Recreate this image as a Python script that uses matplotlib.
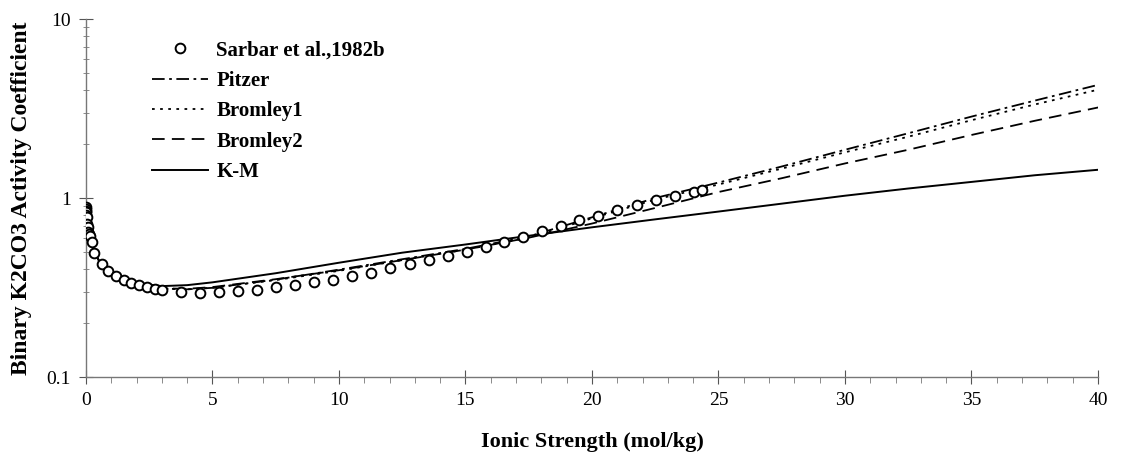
import matplotlib
matplotlib.use("Agg")
import matplotlib.pyplot as plt
from matplotlib.ticker import LogLocator, FixedLocator, NullFormatter

# ---- data ----
exp_x = [0.001, 0.003, 0.006, 0.01, 0.02, 0.03, 0.05, 0.07, 0.09, 0.12, 0.16, 0.22,
         0.32, 0.62, 0.88, 1.19, 1.50, 1.80, 2.11, 2.41, 2.71, 3.02, 3.75, 4.51,
         5.26, 6.00, 6.76, 7.51, 8.26, 9.01, 9.76, 10.52, 11.28, 12.03, 12.8, 13.56,
         14.31, 15.05, 15.8, 16.52, 17.26, 18.02, 18.77, 19.5, 20.25, 21.0, 21.77,
         22.53, 23.27, 24.03, 24.33]
exp_y = [0.89, 0.87, 0.85, 0.83, 0.80, 0.78, 0.72, 0.69, 0.65, 0.63, 0.61, 0.57,
         0.494, 0.426, 0.392, 0.367, 0.348, 0.334, 0.325, 0.317, 0.311, 0.306, 0.300, 0.296,
         0.297, 0.301, 0.307, 0.317, 0.328, 0.338, 0.348, 0.368, 0.383, 0.405, 0.430, 0.451,
         0.474, 0.501, 0.535, 0.570, 0.608, 0.656, 0.698, 0.750, 0.796, 0.853, 0.914,
         0.975, 1.03, 1.084, 1.109]

model_x = [0.001, 0.01, 0.05, 0.1, 0.2, 0.5, 1, 1.5, 2, 3, 4, 5, 7.5, 10, 12.5,
           15, 17.5, 20, 22.5, 25, 27.5, 30, 32.5, 35, 37.5, 40.3]
pitzer = [0.90, 0.82, 0.71, 0.64, 0.56, 0.45, 0.375, 0.345, 0.328, 0.312, 0.309, 0.315,
          0.350, 0.398, 0.455, 0.52, 0.61, 0.78, 1.0, 1.22, 1.5, 1.86, 2.3, 2.85, 3.5, 4.39]
bromley1 = [0.90, 0.82, 0.71, 0.64, 0.56, 0.45, 0.375, 0.345, 0.328, 0.312, 0.309, 0.315,
            0.348, 0.392, 0.45, 0.515, 0.60, 0.77, 0.98, 1.19, 1.46, 1.80, 2.2, 2.72, 3.33, 4.12]
bromley2 = [0.90, 0.82, 0.71, 0.64, 0.56, 0.45, 0.375, 0.345, 0.328, 0.313, 0.311, 0.318,
            0.352, 0.395, 0.45, 0.515, 0.60, 0.72, 0.88, 1.08, 1.29, 1.56, 1.86, 2.25, 2.7, 3.27]
km = [0.90, 0.82, 0.71, 0.64, 0.56, 0.45, 0.38, 0.35, 0.335, 0.322, 0.326, 0.338,
      0.38, 0.435, 0.495, 0.55, 0.615, 0.686, 0.76, 0.84, 0.93, 1.03, 1.13, 1.23, 1.34, 1.45]

x_ticks = [0, 5, 10, 15, 20, 25, 30, 35, 40]
y_ticks = [0.1, 1, 10]
y_tick_labels = ["0.1", "1", "10"]

# ---- figure ----
plt.rcParams['font.family'] = ['Liberation Serif', 'DejaVu Serif']

fig = plt.figure(figsize=(11.22, 4.59), dpi=100)
ax = fig.add_axes([0.0766, 0.1786, 0.902, 0.78])

ax.plot(exp_x, exp_y, 'o', ms=7, mfc='white', mec='black', mew=1.4,
        label='Sarbar et al.,1982b', zorder=3)
ax.plot(model_x, pitzer, color='black', lw=1.3, ls=(0, (7, 2.5, 1.5, 2.5)), label='Pitzer')
ax.plot(model_x, bromley1, color='black', lw=1.3, ls=(0, (1.5, 3)), label='Bromley1')
ax.plot(model_x, bromley2, color='black', lw=1.3, ls=(0, (7, 4)), label='Bromley2')
ax.plot(model_x, km, color='black', lw=1.4, ls='-', label='K-M')

ax.set_yscale('log')
ax.set_xlim(0, 40)
ax.set_ylim(0.1, 10)
ax.set_xticks(x_ticks)
ax.xaxis.set_minor_locator(FixedLocator(range(0, 41)))
ax.set_yticks(y_ticks)
ax.set_yticklabels(y_tick_labels)
ax.yaxis.set_minor_locator(LogLocator(base=10, subs=range(2, 10)))
ax.yaxis.set_minor_formatter(NullFormatter())

for side in ['top', 'right']:
    ax.spines[side].set_visible(False)
for side in ['left', 'bottom']:
    ax.spines[side].set_color('#777777')
    ax.spines[side].set_linewidth(1.0)

ax.tick_params(axis='both', which='major', direction='inout', length=10,
               color='#555555', labelsize=14, pad=6)
ax.tick_params(axis='x', which='minor', direction='out', length=4, color='#777777')
ax.tick_params(axis='y', which='minor', direction='inout', length=4, color='#777777')

ax.set_xlabel('Ionic Strength (mol/kg)', fontsize=16, fontweight='bold', labelpad=16)
ax.set_ylabel('Binary K2CO3 Activity Coefficient', fontsize=17, fontweight='bold', labelpad=10)

leg = ax.legend(loc='upper left', bbox_to_anchor=(0.065, 0.94), frameon=False,
                borderpad=0, borderaxespad=0,
                prop={'weight': 'bold', 'size': 15}, handlelength=2.7,
                handletextpad=0.4, labelspacing=0.5)

fig.savefig('out.png', dpi=100)
